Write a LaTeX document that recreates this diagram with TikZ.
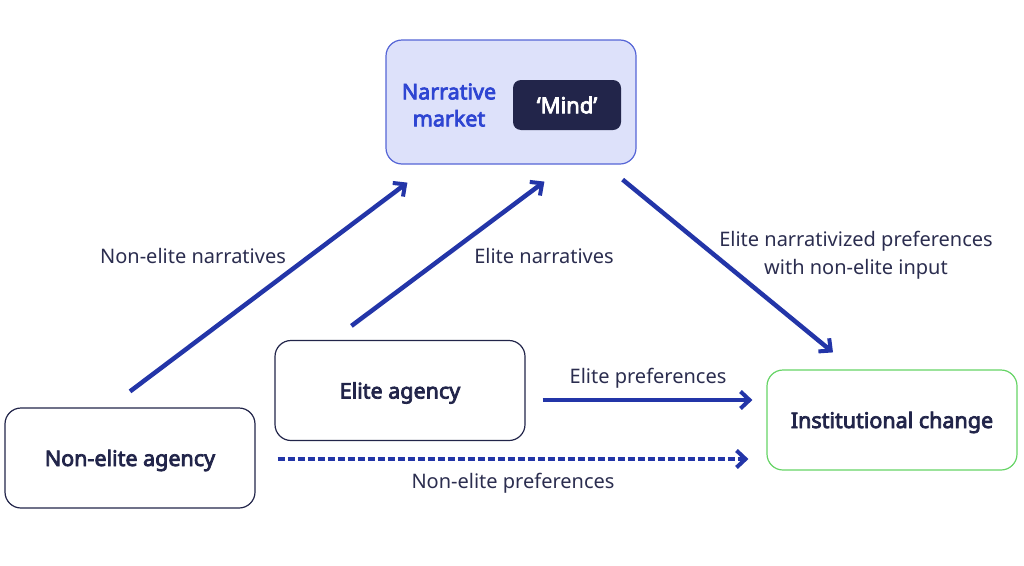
\documentclass[tikz,border=0pt]{standalone}
\usepackage{fontspec}
\setmainfont{Noto Sans}[BoldFont={Noto Sans}, BoldFeatures={FakeBold=3.6}]
\usetikzlibrary{arrows.meta,calc}
\definecolor{navy}{HTML}{22254A}
\definecolor{arrowblue}{HTML}{2335A8}
\definecolor{nmfill}{HTML}{DDE1FA}
\definecolor{nmborder}{HTML}{5565D6}
\definecolor{nmtext}{HTML}{2E45D2}
\definecolor{green}{HTML}{66D466}
\definecolor{labeltext}{HTML}{2B2D4F}
\tikzset{
  agentbox/.style={draw=navy, line width=1.2pt, rounded corners=16pt, minimum width=250pt, minimum height=100pt, font=\fontsize{21.5}{24}\selectfont\bfseries, text=navy, text height=20pt, text depth=4pt},
  flow/.style={draw=arrowblue, line width=4.5pt, -{Straight Barb[length=9pt,width=17pt,line width=4pt]}},
  dflow/.style={flow, dash pattern=on 7pt off 3pt},
  lbl/.style={font=\fontsize{20}{28}\selectfont, text=labeltext, align=center}
}
\begin{document}
\begin{tikzpicture}[x=1pt,y=-1pt]
\useasboundingbox (0,0) rectangle (1024,565);
\node[draw=nmborder, fill=nmfill, line width=1.2pt, rounded corners=16pt, minimum width=250pt, minimum height=124pt] (nm) at (511,102) {};
\node[fill=navy, rounded corners=8pt, minimum width=108pt, minimum height=50pt, text=white, font=\fontsize{22}{24}\selectfont\bfseries] (mind) at (567,105) {‘Mind’};
\node[text=nmtext, font=\fontsize{21.5}{27}\selectfont\bfseries, align=center] (nmt) at (449,105) {Narrative\\market};
\node[agentbox] (nea) at (130,458) {Non-elite agency};
\node[agentbox] (ea) at (400,390.5) {Elite agency};
\node[agentbox, draw=green] (ic) at (892,420) {Institutional change};
\draw[flow] ($(nea.north)+(0,-16)$) -- ($(nm.south west)+(22,18)$);
\node[lbl] (l1) at (193,256) {Non-elite narratives};
\draw[flow] ($(ea.north west)+(77,-14)$) -- ($(nm.south west)+(159,17)$);
\node[lbl] (l2) at (544,256) {Elite narratives};
\draw[flow] ($(nm.south east)+(-14,15)$) -- ($(ic.north)+(-59,-17)$);
\node[lbl] (l3) at (856,255) {Elite narrativized preferences\\with non-elite input};
\draw[flow] ($(ea.east)+(17,9.5)$) -- ($(ic.west)+(-14,-20)$);
\node[lbl] (l4) at (648,378) {Elite preferences};
\draw[dflow] ($(nea.east)+(22,1)$) -- ($(ic.west)+(-18,39)$);
\node[lbl] (l5) at (513,483) {Non-elite preferences};
\end{tikzpicture}
\end{document}
